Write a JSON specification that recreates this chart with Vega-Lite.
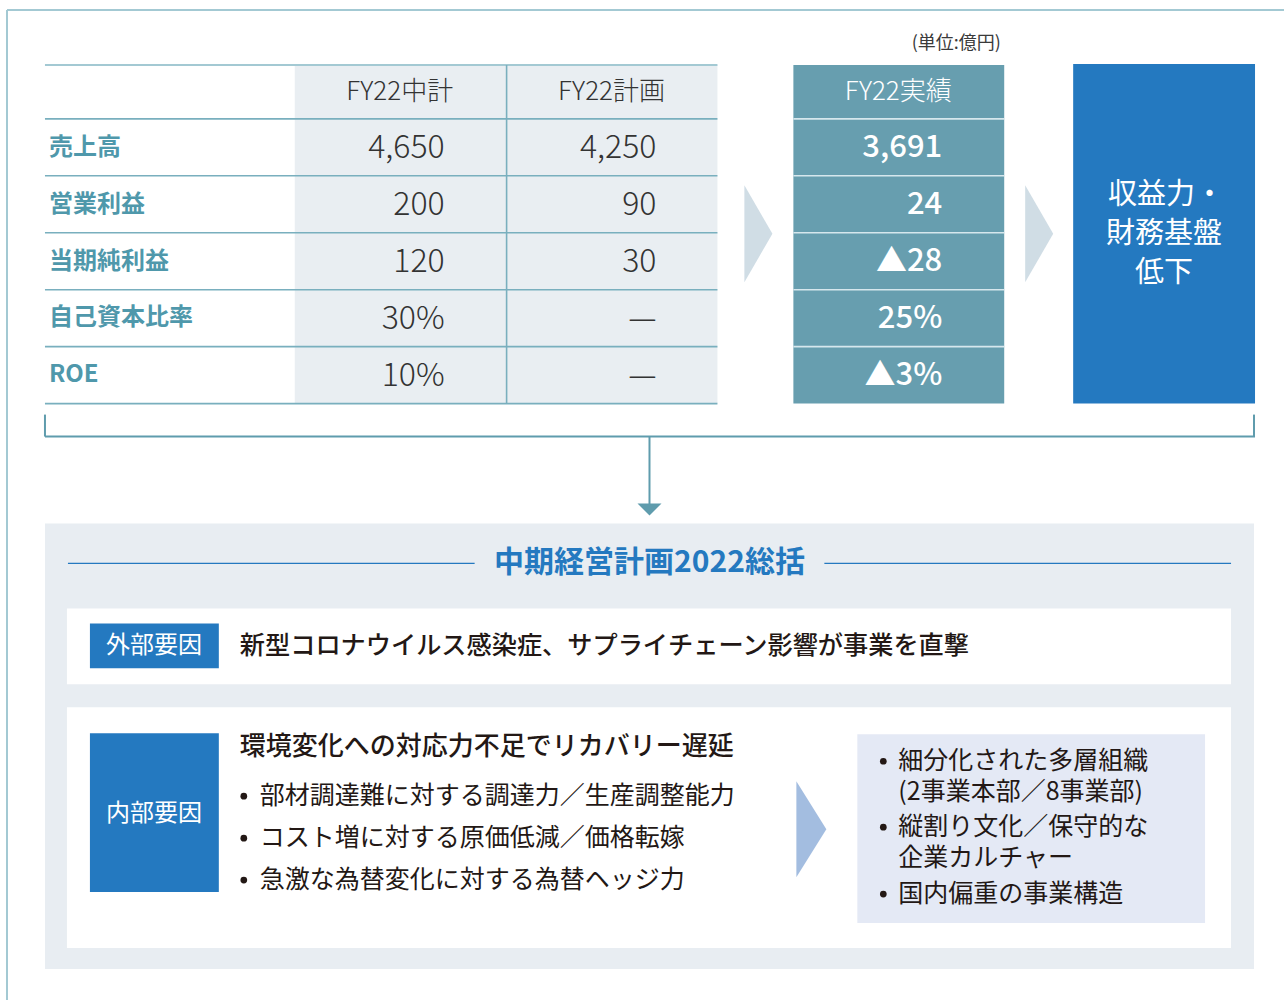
{
  "$schema": "https://vega.github.io/schema/vega-lite/v6.json",
  "width": 1285,
  "height": 1001,
  "autosize": {"type": "fit", "contains": "padding"},
  "padding": 0,
  "background": "#ffffff",
  "config": {"view": {"stroke": null}, "text": {"font": "Noto Sans CJK JP"}},
  "encoding": {
    "x": {"field": "x", "type": "quantitative", "scale": {"domain": [0, 1285], "nice": false, "zero": false}, "axis": null},
    "y": {"field": "y", "type": "quantitative", "scale": {"domain": [0, 1001], "nice": false, "zero": false, "reverse": true}, "axis": null}
  },
  "layer": [
    {
      "data": {"values": [
        {"x": 295, "x2": 718, "y": 65, "y2": 404, "part": "plan"},
        {"x": 794, "x2": 1005, "y": 65, "y2": 404, "part": "actual"},
        {"x": 1074, "x2": 1256, "y": 64, "y2": 404, "part": "blue"},
        {"x": 45, "x2": 1255, "y": 524, "y2": 970, "part": "panel"},
        {"x": 67, "x2": 1232, "y": 609, "y2": 685, "part": "white"},
        {"x": 67, "x2": 1232, "y": 708, "y2": 949, "part": "white"},
        {"x": 90, "x2": 219, "y": 624, "y2": 669, "part": "blue"},
        {"x": 90, "x2": 219, "y": 734, "y2": 893, "part": "blue"},
        {"x": 858, "x2": 1206, "y": 735, "y2": 924, "part": "issues"}
      ]},
      "mark": {"type": "rect"},
      "encoding": {
        "x2": {"field": "x2"},
        "y2": {"field": "y2"},
        "color": {"field": "part", "type": "nominal", "legend": null,
          "scale": {"domain": ["plan", "actual", "blue", "panel", "white", "issues"],
                    "range": ["#e9eef2", "#679eaf", "#2479c0", "#e8edf2", "#ffffff", "#e4e9f5"]}}
      }
    },
    {
      "data": {"values": [
        {"x": 7, "x2": 1285, "y": 10, "y2": 10},
        {"x": 7, "x2": 7, "y": 10, "y2": 1001},
        {"x": 45, "x2": 718, "y": 65, "y2": 65}
      ]},
      "mark": {"type": "rule", "color": "#a3c9d3", "strokeWidth": 2},
      "encoding": {"x2": {"field": "x2"}, "y2": {"field": "y2"}}
    },
    {
      "data": {"values": [
        {"x": 45, "x2": 718, "y": 119, "y2": 119},
        {"x": 45, "x2": 718, "y": 176, "y2": 176},
        {"x": 45, "x2": 718, "y": 233, "y2": 233},
        {"x": 45, "x2": 718, "y": 290, "y2": 290},
        {"x": 45, "x2": 718, "y": 347, "y2": 347},
        {"x": 45, "x2": 718, "y": 404, "y2": 404},
        {"x": 507, "x2": 507, "y": 65, "y2": 404}
      ]},
      "mark": {"type": "rule", "color": "#79afbe", "strokeWidth": 1.6},
      "encoding": {"x2": {"field": "x2"}, "y2": {"field": "y2"}}
    },
    {
      "data": {"values": [
        {"x": 794, "x2": 1005, "y": 119, "y2": 119},
        {"x": 794, "x2": 1005, "y": 176, "y2": 176},
        {"x": 794, "x2": 1005, "y": 233, "y2": 233},
        {"x": 794, "x2": 1005, "y": 290, "y2": 290},
        {"x": 794, "x2": 1005, "y": 347, "y2": 347}
      ]},
      "mark": {"type": "rule", "color": "#d6e7ed", "strokeWidth": 1.6},
      "encoding": {"x2": {"field": "x2"}, "y2": {"field": "y2"}}
    },
    {
      "data": {"values": [
        {"x": 45, "x2": 1256, "y": 437, "y2": 437},
        {"x": 45, "x2": 45, "y": 415, "y2": 437},
        {"x": 1255, "x2": 1255, "y": 415, "y2": 437},
        {"x": 650, "x2": 650, "y": 437, "y2": 505}
      ]},
      "mark": {"type": "rule", "color": "#5f9cad", "strokeWidth": 2},
      "encoding": {"x2": {"field": "x2"}, "y2": {"field": "y2"}}
    },
    {
      "data": {"values": [
        {"x": 68, "x2": 475, "y": 564, "y2": 564},
        {"x": 825, "x2": 1232, "y": 564, "y2": 564}
      ]},
      "mark": {"type": "rule", "color": "#2479c0", "strokeWidth": 1.2},
      "encoding": {"x2": {"field": "x2"}, "y2": {"field": "y2"}}
    },
    {
      "data": {"values": [{"x": 759, "y": 234}, {"x": 1040, "y": 234}]},
      "mark": {"type": "point", "shape": "M-0.289,-1L0.289,0L-0.289,1Z", "filled": true, "size": 9409, "color": "#d0dde5", "opacity": 1, "strokeWidth": 0}
    },
    {
      "data": {"values": [{"x": 812, "y": 830}]},
      "mark": {"type": "point", "shape": "M-0.3125,-1L0.3125,0L-0.3125,1Z", "filled": true, "size": 9216, "color": "#a3bde0", "opacity": 1, "strokeWidth": 0}
    },
    {
      "data": {"values": [{"x": 650, "y": 510}]},
      "mark": {"type": "point", "shape": "M-1,-0.5L1,-0.5L0,0.5Z", "filled": true, "size": 576, "color": "#5f9cad", "opacity": 1, "strokeWidth": 0}
    },
    {
      "data": {"values": [{"x": 957, "y": 44, "t": "(単位:億円)"}]},
      "mark": {"type": "text", "fontSize": 18, "color": "#3a3a3a", "align": "center", "baseline": "middle"},
      "encoding": {"text": {"field": "t"}}
    },
    {
      "data": {"values": [
        {"x": 400, "y": 92, "t": "FY22中計"},
        {"x": 612, "y": 92, "t": "FY22計画"}
      ]},
      "mark": {"type": "text", "fontSize": 26, "fontWeight": 300, "color": "#333333", "align": "center", "baseline": "middle"},
      "encoding": {"text": {"field": "t"}}
    },
    {
      "data": {"values": [{"x": 899, "y": 92, "t": "FY22実績"}]},
      "mark": {"type": "text", "fontSize": 26, "fontWeight": 300, "color": "#ffffff", "align": "center", "baseline": "middle"},
      "encoding": {"text": {"field": "t"}}
    },
    {
      "data": {"values": [
        {"x": 49, "y": 148, "t": "売上高"},
        {"x": 49, "y": 205, "t": "営業利益"},
        {"x": 49, "y": 262, "t": "当期純利益"},
        {"x": 49, "y": 318, "t": "自己資本比率"},
        {"x": 49, "y": 375, "t": "ROE"}
      ]},
      "mark": {"type": "text", "fontSize": 24, "fontWeight": "bold", "color": "#4f98ab", "align": "left", "baseline": "middle"},
      "encoding": {"text": {"field": "t"}}
    },
    {
      "data": {"values": [
        {"x": 445, "y": 148, "t": "4,650"},
        {"x": 445, "y": 205, "t": "200"},
        {"x": 445, "y": 262, "t": "120"},
        {"x": 445, "y": 319, "t": "30%"},
        {"x": 445, "y": 376, "t": "10%"},
        {"x": 657, "y": 148, "t": "4,250"},
        {"x": 657, "y": 205, "t": "90"},
        {"x": 657, "y": 262, "t": "30"},
        {"x": 657, "y": 319, "t": "—"},
        {"x": 657, "y": 376, "t": "—"}
      ]},
      "mark": {"type": "text", "fontSize": 32, "fontWeight": 300, "color": "#333333", "align": "right", "baseline": "middle"},
      "encoding": {"text": {"field": "t"}}
    },
    {
      "data": {"values": [
        {"x": 943, "y": 148, "t": "3,691"},
        {"x": 943, "y": 205, "t": "24"},
        {"x": 943, "y": 262, "t": "▲28"},
        {"x": 943, "y": 319, "t": "25%"},
        {"x": 943, "y": 376, "t": "▲3%"}
      ]},
      "mark": {"type": "text", "fontSize": 31, "fontWeight": 500, "color": "#ffffff", "align": "right", "baseline": "middle"},
      "encoding": {"text": {"field": "t"}}
    },
    {
      "data": {"values": [
        {"x": 1167, "y": 195, "t": "収益力・"},
        {"x": 1165, "y": 234, "t": "財務基盤"},
        {"x": 1165, "y": 273, "t": "低下"}
      ]},
      "mark": {"type": "text", "fontSize": 29, "color": "#ffffff", "align": "center", "baseline": "middle"},
      "encoding": {"text": {"field": "t"}}
    },
    {
      "data": {"values": [{"x": 650, "y": 564, "t": "中期経営計画2022総括"}]},
      "mark": {"type": "text", "fontSize": 30, "fontWeight": "bold", "color": "#2479c0", "align": "center", "baseline": "middle"},
      "encoding": {"text": {"field": "t"}}
    },
    {
      "data": {"values": [
        {"x": 154, "y": 647, "t": "外部要因"},
        {"x": 154, "y": 815, "t": "内部要因"}
      ]},
      "mark": {"type": "text", "fontSize": 24, "color": "#ffffff", "align": "center", "baseline": "middle"},
      "encoding": {"text": {"field": "t"}}
    },
    {
      "data": {"values": [
        {"x": 240, "y": 647, "t": "新型コロナウイルス感染症、サプライチェーン影響が事業を直撃"}
      ]},
      "mark": {"type": "text", "fontSize": 25.2, "fontWeight": 500, "color": "#231815", "align": "left", "baseline": "middle"},
      "encoding": {"text": {"field": "t"}}
    },
    {
      "data": {"values": [
        {"x": 240, "y": 748, "t": "環境変化への対応力不足でリカバリー遅延"}
      ]},
      "mark": {"type": "text", "fontSize": 26, "fontWeight": 500, "color": "#231815", "align": "left", "baseline": "middle"},
      "encoding": {"text": {"field": "t"}}
    },
    {
      "data": {"values": [
        {"x": 260, "y": 797, "t": "部材調達難に対する調達力／生産調整能力"},
        {"x": 260, "y": 839, "t": "コスト増に対する原価低減／価格転嫁"},
        {"x": 260, "y": 881, "t": "急激な為替変化に対する為替ヘッジ力"},
        {"x": 899, "y": 762, "t": "細分化された多層組織"},
        {"x": 899, "y": 793, "t": "(2事業本部／8事業部)"},
        {"x": 899, "y": 828, "t": "縦割り文化／保守的な"},
        {"x": 899, "y": 859, "t": "企業カルチャー"},
        {"x": 899, "y": 895, "t": "国内偏重の事業構造"}
      ]},
      "mark": {"type": "text", "fontSize": 25, "color": "#231815", "align": "left", "baseline": "middle"},
      "encoding": {"text": {"field": "t"}}
    },
    {
      "data": {"values": [
        {"x": 244, "y": 797},
        {"x": 244, "y": 839},
        {"x": 244, "y": 881},
        {"x": 884, "y": 762},
        {"x": 884, "y": 828},
        {"x": 884, "y": 895}
      ]},
      "mark": {"type": "point", "shape": "circle", "filled": true, "size": 45, "color": "#231815", "opacity": 1, "strokeWidth": 0}
    }
  ]
}
